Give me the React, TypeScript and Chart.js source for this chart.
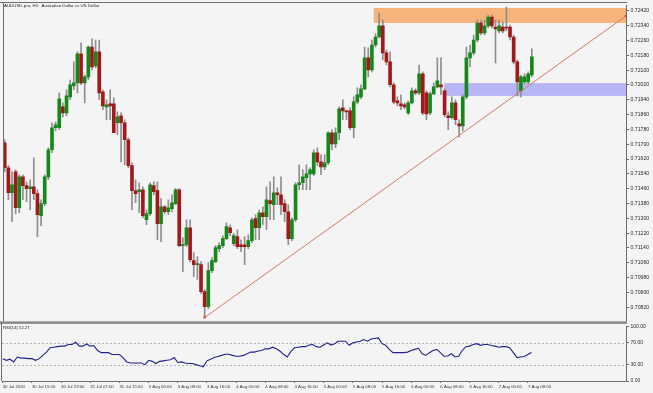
import React, { useEffect, useRef } from "react";
import { Chart, registerables } from "chart.js";

Chart.register(...registerables);

// ---- Data (AUDUSD.pro, H1) ----
const OPEN = [
  0.71708, 0.71573, 0.71438, 0.71551, 0.71357, 0.71524, 0.71476, 0.7146, 0.7147, 0.71433,
  0.71314, 0.71379, 0.71524, 0.7167, 0.71789, 0.71789, 0.71902, 0.71869, 0.71956, 0.72015,
  0.72031, 0.72188, 0.72031, 0.72064, 0.72225, 0.72123, 0.72199, 0.71983, 0.71902, 0.71918,
  0.71918, 0.71816, 0.71853, 0.71816, 0.71724, 0.71584, 0.71449, 0.71443, 0.71454, 0.71292,
  0.71325, 0.71476, 0.71449, 0.71271, 0.71362, 0.71335, 0.71352, 0.71379, 0.71454, 0.71152,
  0.71157, 0.71249, 0.71071, 0.7105, 0.7105, 0.70904, 0.70823, 0.71017, 0.71066, 0.71136,
  0.71152, 0.7119, 0.71249, 0.71163, 0.71201, 0.71157, 0.71157, 0.71147, 0.71179, 0.71298,
  0.71249, 0.7133, 0.71308, 0.71395, 0.71373, 0.71438, 0.71427, 0.71379, 0.71335, 0.7119,
  0.71292, 0.71481, 0.71492, 0.71519, 0.7154, 0.7154, 0.71654, 0.71605, 0.71578, 0.716,
  0.71762, 0.71702, 0.71762, 0.71896, 0.7188, 0.7188, 0.71789, 0.71929, 0.71956, 0.71999,
  0.72166, 0.72101, 0.72236, 0.72279, 0.72339, 0.72193, 0.72145, 0.72021, 0.71934, 0.71918,
  0.71913, 0.71869, 0.71923, 0.71988, 0.71977, 0.7208, 0.71977, 0.71869, 0.71972, 0.7201,
  0.72021, 0.71988, 0.71853, 0.71843, 0.71923, 0.7181, 0.71799, 0.71956, 0.72166, 0.72193,
  0.72263, 0.72355, 0.72301, 0.72339, 0.72387, 0.72333, 0.72312, 0.72333, 0.72328, 0.72333,
  0.72279, 0.72145, 0.71988, 0.72037, 0.72037, 0.72074,
];
const HIGH = [
  0.71724, 0.71584, 0.71551, 0.71562, 0.71535, 0.71535, 0.71497, 0.71508, 0.71627, 0.71454,
  0.714, 0.71535, 0.71681, 0.71816, 0.71821, 0.71977, 0.71923, 0.71994, 0.72047, 0.72145,
  0.72199, 0.72247, 0.72074, 0.72231, 0.72269, 0.72263, 0.72263, 0.71994, 0.7194, 0.71994,
  0.7195, 0.71875, 0.71869, 0.71832, 0.71735, 0.716, 0.71508, 0.71492, 0.7147, 0.71346,
  0.71492, 0.71497, 0.71497, 0.71406, 0.71368, 0.714, 0.71427, 0.7146, 0.7146, 0.71195,
  0.71292, 0.71292, 0.71114, 0.71093, 0.71066, 0.70915, 0.7106, 0.71087, 0.71152, 0.71168,
  0.71206, 0.71276, 0.71265, 0.71217, 0.71238, 0.71184, 0.71201, 0.71211, 0.71303, 0.71319,
  0.71346, 0.71362, 0.7147, 0.71497, 0.71524, 0.71465, 0.71524, 0.714, 0.71373, 0.71303,
  0.71492, 0.71589, 0.71562, 0.71589, 0.71573, 0.7167, 0.71681, 0.71643, 0.71643, 0.71767,
  0.71778, 0.71789, 0.71902, 0.7194, 0.71886, 0.71896, 0.71956, 0.72004, 0.72021, 0.72225,
  0.7222, 0.72263, 0.72296, 0.72409, 0.72371, 0.72209, 0.72199, 0.72031, 0.71956, 0.71967,
  0.71923, 0.71934, 0.72004, 0.71999, 0.72128, 0.72091, 0.71988, 0.71983, 0.72031, 0.72166,
  0.72166, 0.71999, 0.71875, 0.71956, 0.7194, 0.71832, 0.71967, 0.72225, 0.72236, 0.7229,
  0.72371, 0.72371, 0.72371, 0.72398, 0.72398, 0.72371, 0.72371, 0.7236, 0.72441, 0.72344,
  0.7229, 0.72155, 0.72074, 0.7208, 0.72091, 0.72215,
];
const LOW = [
  0.71551, 0.714, 0.71282, 0.71325, 0.7133, 0.714, 0.71389, 0.71346, 0.714, 0.71201,
  0.7126, 0.71368, 0.71508, 0.71654, 0.71772, 0.71778, 0.71848, 0.71853, 0.7194, 0.71994,
  0.71977, 0.72021, 0.71923, 0.72047, 0.72101, 0.72112, 0.7194, 0.71886, 0.71832, 0.71832,
  0.71762, 0.71751, 0.71605, 0.71589, 0.71573, 0.71346, 0.71384, 0.7133, 0.71303, 0.71265,
  0.71314, 0.71427, 0.71184, 0.71174, 0.71325, 0.71319, 0.71335, 0.71373, 0.71147, 0.71012,
  0.71147, 0.71066, 0.70985, 0.70969, 0.70893, 0.70764, 0.70812, 0.71006, 0.7106, 0.7112,
  0.71141, 0.71184, 0.71206, 0.71152, 0.71136, 0.7112, 0.7105, 0.71136, 0.71168, 0.71184,
  0.71184, 0.71265, 0.71238, 0.71292, 0.71292, 0.71373, 0.71319, 0.71282, 0.71157, 0.71179,
  0.71282, 0.71454, 0.71454, 0.71454, 0.71454, 0.7153, 0.71584, 0.71535, 0.71562, 0.71589,
  0.7167, 0.71681, 0.71724, 0.71832, 0.71832, 0.71778, 0.71735, 0.71918, 0.71945, 0.71994,
  0.72064, 0.72091, 0.72225, 0.72274, 0.72155, 0.72128, 0.7201, 0.71918, 0.71907, 0.71886,
  0.71891, 0.71859, 0.71918, 0.71967, 0.71967, 0.71859, 0.71832, 0.71859, 0.71967, 0.72004,
  0.71967, 0.71848, 0.71778, 0.71837, 0.71805, 0.7174, 0.71772, 0.71945, 0.72118, 0.72182,
  0.72252, 0.7229, 0.7229, 0.72328, 0.72328, 0.72139, 0.72301, 0.72301, 0.72312, 0.72263,
  0.72134, 0.71961, 0.71956, 0.72026, 0.72026, 0.72064,
];
const CLOSE = [
  0.71573, 0.71438, 0.71481, 0.71357, 0.71524, 0.71476, 0.7146, 0.7147, 0.71433, 0.71319,
  0.71379, 0.71524, 0.7167, 0.71789, 0.71805, 0.71945, 0.71869, 0.71961, 0.72021, 0.72031,
  0.72188, 0.72031, 0.72064, 0.72225, 0.72118, 0.72199, 0.71977, 0.71907, 0.71913, 0.71907,
  0.71762, 0.71848, 0.71816, 0.71724, 0.71584, 0.71449, 0.71433, 0.71454, 0.71314, 0.71325,
  0.71481, 0.71443, 0.71271, 0.71362, 0.71335, 0.71357, 0.71384, 0.71454, 0.71152, 0.71157,
  0.71249, 0.71077, 0.7105, 0.71055, 0.70904, 0.70823, 0.71017, 0.71071, 0.71141, 0.71152,
  0.7119, 0.71255, 0.71222, 0.71206, 0.71147, 0.71147, 0.71147, 0.71179, 0.71292, 0.71249,
  0.7133, 0.71308, 0.714, 0.71379, 0.71438, 0.71427, 0.71373, 0.71335, 0.7119, 0.71292,
  0.71481, 0.71492, 0.71524, 0.7154, 0.71562, 0.71654, 0.71605, 0.71578, 0.716, 0.71762,
  0.71702, 0.71762, 0.71891, 0.7188, 0.71875, 0.71789, 0.71929, 0.71967, 0.71999, 0.72166,
  0.72101, 0.72236, 0.72279, 0.72339, 0.72193, 0.72145, 0.72021, 0.71929, 0.71923, 0.71907,
  0.71902, 0.71923, 0.71988, 0.71977, 0.7208, 0.71869, 0.71864, 0.71972, 0.7201, 0.72042,
  0.7201, 0.71859, 0.71843, 0.71923, 0.71832, 0.71799, 0.71956, 0.72166, 0.72193, 0.72263,
  0.72355, 0.72301, 0.72339, 0.72387, 0.72339, 0.72323, 0.72339, 0.72312, 0.72327, 0.72279,
  0.72145, 0.72037, 0.72064, 0.72064, 0.7208, 0.72172,
];
const RSI = [
  41, 38, 40, 35, 44, 42, 42, 41, 41, 38,
  41, 47, 53, 61, 62, 63, 64, 64, 67, 67,
  71, 64, 64, 68, 64, 65, 56, 52, 52, 52,
  48.5, 48.5, 48.5, 43, 35, 33, 33, 33, 33, 30,
  38, 36, 32, 36, 37, 38, 39, 43, 34, 35,
  33, 32, 32, 30, 28, 26, 37, 40, 43, 45,
  47, 49, 49, 47, 45.5, 45.5, 47, 50, 53, 53,
  55, 56, 59, 59, 62, 59, 55, 49, 44, 54,
  61, 62, 63, 63, 66, 67, 63, 62, 66, 70,
  66, 68.5, 73, 73, 73, 65.5, 70, 71.5, 73, 76,
  73, 77, 78, 79, 68.5, 65.5, 58, 52, 52, 52,
  52, 53, 56, 58, 60, 50, 47, 52, 56, 58,
  52, 45.5, 46, 50, 44, 45.5, 56, 63, 64, 67,
  68.5, 65.5, 67, 67, 65, 64, 62, 63, 63, 61,
  52, 43, 44, 45, 48.5, 52.27,
];
const X_LABELS = [
  "30 Jul 2020", "30 Jul 15:00", "30 Jul 23:00", "31 Jul 07:00", "31 Jul 15:00",
  "3 Aug 00:00", "3 Aug 08:00", "3 Aug 16:00", "4 Aug 00:00", "4 Aug 08:00",
  "4 Aug 16:00", "5 Aug 00:00", "5 Aug 08:00", "5 Aug 16:00", "6 Aug 00:00",
  "6 Aug 08:00", "6 Aug 16:00", "7 Aug 00:00", "7 Aug 08:00",
];
const X_LABEL_STEP = 8;
const PRICE_TICKS = [
  0.7082, 0.709, 0.7098, 0.7106, 0.7114, 0.7122, 0.713, 0.7138, 0.7146, 0.7154,
  0.7162, 0.717, 0.7178, 0.7186, 0.7194, 0.7202, 0.721, 0.7218, 0.7226, 0.7234, 0.7242,
];
const RSI_TICKS = [0, 30, 70, 100];
const RSI_LEVELS = [30, 70];
const PRICE_MIN = 0.70743;
const PRICE_MAX = 0.72452;
const X_MIN = -0.2;
const X_MAX = 170.9;
const ORANGE_ZONE = { from: 101.5, top: 0.72436, bottom: 0.72355 };
const BLUE_ZONE = { from: 120.9, top: 0.7203, bottom: 0.71961 };
const TREND_X = [55, 170.9];
const TREND_Y = [0.70764, 0.72393];
const TITLE = "AUDUSD.pro, H1:  Australian Dollar vs US Dollar";
const RSI_TITLE = "RSI(14) 52.27";

const BG = "#f4f4f4";
const AXIS = "#6e6e6e";
const FONT = "Liberation Sans";

export default function App() {
  const mainRef = useRef<HTMLCanvasElement | null>(null);
  const rsiRef = useRef<HTMLCanvasElement | null>(null);

  useEffect(() => {
    if (!mainRef.current || !rsiRef.current) return;

    const zonesPlugin = {
      id: "zones",
      beforeDatasetsDraw(chart: any) {
        const { ctx, chartArea, scales } = chart;
        const xs = scales.x;
        const ys = scales.y;
        ctx.save();
        const zones = [
          { z: ORANGE_ZONE, c: "#f8b37a" },
          { z: BLUE_ZONE, c: "#b6b6f6" },
        ];
        zones.forEach(({ z, c }) => {
          const x1 = xs.getPixelForValue(z.from);
          const y1 = ys.getPixelForValue(z.top);
          const y2 = ys.getPixelForValue(z.bottom);
          ctx.fillStyle = c;
          ctx.fillRect(x1, y1, chartArea.right - x1, y2 - y1);
        });
        ctx.restore();
      },
      afterDraw(chart: any) {
        const { ctx, chartArea } = chart;
        ctx.save();
        ctx.fillStyle = "#8a8a8a";
        ctx.fillRect(0, chartArea.bottom, chartArea.right + 1, 2.5);
        ctx.strokeStyle = AXIS;
        ctx.lineWidth = 1;
        ctx.beginPath();
        ctx.moveTo(chartArea.left - 0.5, 2);
        ctx.lineTo(chartArea.left - 0.5, chartArea.bottom);
        ctx.moveTo(0, 2.5);
        ctx.lineTo(chartArea.right + 1, 2.5);
        ctx.stroke();
        ctx.restore();
      },
    };

    const levelsPlugin = {
      id: "levels",
      beforeDatasetsDraw(chart: any) {
        const { ctx, chartArea, scales } = chart;
        ctx.save();
        ctx.strokeStyle = "#b4b4b4";
        ctx.lineWidth = 1;
        ctx.setLineDash([2, 2]);
        RSI_LEVELS.forEach((lv) => {
          const y = Math.round(scales.y.getPixelForValue(lv)) + 0.5;
          ctx.beginPath();
          ctx.moveTo(chartArea.left, y);
          ctx.lineTo(chartArea.right, y);
          ctx.stroke();
        });
        ctx.setLineDash([]);
        ctx.strokeStyle = AXIS;
        ctx.beginPath();
        ctx.moveTo(chartArea.left - 0.5, 0);
        ctx.lineTo(chartArea.left - 0.5, chartArea.bottom);
        ctx.stroke();
        ctx.restore();
      },
    };

    const bodyColors = OPEN.map((o, i) => (CLOSE[i] >= o ? "#16881a" : "#a3191b"));

    const main = new Chart(mainRef.current, {
      type: "bar",
      data: {
        datasets: [
          {
            type: "line",
            data: TREND_X.map((x, k) => ({ x, y: TREND_Y[k] })),
            borderColor: "#cf7a66",
            borderWidth: 1,
            pointStyle: "rect",
            pointRadius: 1.6,
            pointBackgroundColor: "#d8452c",
            pointBorderWidth: 0,
            order: 0,
          } as any,
          {
            type: "bar",
            data: LOW.map((l, i) => ({ x: i, y: [l, HIGH[i]] })),
            backgroundColor: "#8e8e8e",
            barThickness: 1,
            maxBarThickness: 1,
            grouped: false,
            order: 2,
          } as any,
          {
            type: "bar",
            data: OPEN.map((o, i) => ({ x: i, y: [o, CLOSE[i]] })),
            backgroundColor: bodyColors,
            barThickness: 3,
            maxBarThickness: 3,
            minBarLength: 1,
            grouped: false,
            order: 1,
          } as any,
        ],
      },
      options: {
        animation: false,
        responsive: false,
        maintainAspectRatio: false,
        layout: { padding: { left: 2, top: 5, right: 0, bottom: 4 } },
        plugins: { legend: { display: false }, tooltip: { enabled: false } },
        scales: {
          x: { type: "linear", min: X_MIN, max: X_MAX, offset: false, display: false },
          y: {
            position: "right",
            min: PRICE_MIN,
            max: PRICE_MAX,
            afterBuildTicks: (s: any) => {
              s.ticks = PRICE_TICKS.map((v) => ({ value: v }));
            },
            afterFit: (s: any) => {
              s.width = 27;
            },
            ticks: {
              callback: (v: any) => Number(v).toFixed(5),
              font: { size: 5.2, family: FONT },
              color: "#2a2a2a",
              padding: 1.5,
            },
            grid: { drawOnChartArea: false, tickLength: 3, color: AXIS },
            border: { color: AXIS },
          },
        },
      } as any,
      plugins: [zonesPlugin],
    });

    const rsi = new Chart(rsiRef.current, {
      type: "line",
      data: {
        datasets: [
          {
            data: RSI.map((v, i) => ({ x: i, y: v })),
            borderColor: "#23238a",
            borderWidth: 1.1,
            pointRadius: 0,
            tension: 0,
          },
        ],
      },
      options: {
        animation: false,
        responsive: false,
        maintainAspectRatio: false,
        layout: { padding: { left: 2, top: 4, right: 0, bottom: 0 } },
        plugins: { legend: { display: false }, tooltip: { enabled: false } },
        scales: {
          x: {
            type: "linear",
            min: X_MIN,
            max: X_MAX,
            offset: false,
            afterBuildTicks: (s: any) => {
              s.ticks = X_LABELS.map((_, k) => ({ value: k * X_LABEL_STEP }));
            },
            afterFit: (s: any) => {
              s.height = 12;
            },
            ticks: {
              callback: (_v: any, idx: number) => X_LABELS[idx],
              align: "start",
              autoSkip: false,
              maxRotation: 0,
              minRotation: 0,
              font: { size: 4.3, family: FONT },
              color: "#333",
              padding: 1,
            },
            grid: { drawOnChartArea: false, tickLength: 2, color: AXIS },
            border: { color: AXIS },
          },
          y: {
            position: "right",
            min: 0,
            max: 100,
            afterBuildTicks: (s: any) => {
              s.ticks = RSI_TICKS.map((v) => ({ value: v }));
            },
            afterFit: (s: any) => {
              s.width = 27;
            },
            ticks: {
              callback: (v: any) => Number(v).toFixed(2),
              font: { size: 5, family: FONT },
              color: "#2a2a2a",
              padding: 1.5,
            },
            grid: { drawOnChartArea: false, tickLength: 3, color: AXIS },
            border: { color: AXIS },
          },
        },
      } as any,
      plugins: [levelsPlugin],
    });

    return () => {
      main.destroy();
      rsi.destroy();
    };
  }, []);

  return (
    <div
      style={{
        position: "absolute",
        left: 0,
        top: 0,
        width: 653,
        height: 393,
        background: BG,
        overflow: "hidden",
      }}
    >
      <canvas
        ref={mainRef}
        width={653}
        height={326}
        style={{ position: "absolute", left: 0, top: 0, width: 653, height: 326 }}
      />
      <canvas
        ref={rsiRef}
        width={653}
        height={71}
        style={{ position: "absolute", left: 0, top: 322, width: 653, height: 71 }}
      />
      <span
        style={{
          position: "absolute",
          left: 4,
          top: 3,
          fontSize: "4.4px",
          lineHeight: "5px",
          fontFamily: FONT,
          color: "#222",
          whiteSpace: "pre",
        }}
      >
        {TITLE}
      </span>
      <span
        style={{
          position: "absolute",
          left: 3,
          top: 325,
          fontSize: "4.3px",
          lineHeight: "5px",
          fontFamily: FONT,
          color: "#222",
          whiteSpace: "pre",
        }}
      >
        {RSI_TITLE}
      </span>
    </div>
  );
}
